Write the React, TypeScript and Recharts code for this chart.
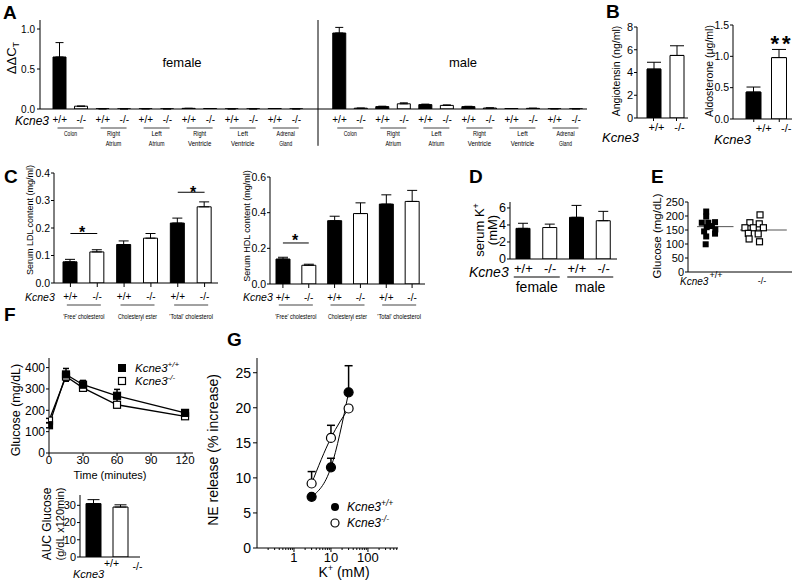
import React from "react";
import {
  BarChart, Bar, Cell, XAxis, YAxis, ErrorBar, ReferenceLine,
  LineChart, Line, ScatterChart, Scatter,
} from "recharts";

const FONT = "'Liberation Sans', Arial, Helvetica, sans-serif";
const BLACK = "#000";

// ---------- data ----------
const genotypes = ["+/+", "-/-"];

// A: ΔΔCT per tissue, +/+ then -/- for each tissue
const tissues = ["Colon", "Right Atrium", "Left Atrium", "Right Ventricle", "Left Ventricle", "Adrenal Gland"];
const femaleDdct = [0.65, 0.035, 0.002, 0.001, 0.002, 0.001, 0.008, 0.006, 0.001, 0.001, 0.006, 0.001];
const femaleSem = [0.18, 0, 0, 0, 0, 0, 0, 0, 0, 0, 0, 0];
const maleDdct = [0.95, 0.01, 0.03, 0.065, 0.055, 0.045, 0.03, 0.012, 0.006, 0.008, 0.002, 0.002];
const maleSem = [0.07, 0, 0.005, 0.012, 0.006, 0.006, 0.004, 0.002, 0, 0.002, 0, 0];

// B
const angiotensin = [4.3, 5.5];
const angiotensinSem = [0.6, 0.85];
const aldosterone = [0.43, 0.98];
const aldosteroneSem = [0.08, 0.13];

// C
const lipidGroups = ["'Free' cholesterol", "Cholesteryl ester", "'Total' cholesterol"];
const ldl = [0.077, 0.113, 0.14, 0.163, 0.218, 0.277];
const ldlSem = [0.009, 0.008, 0.013, 0.017, 0.018, 0.018];
const hdl = [0.14, 0.105, 0.355, 0.395, 0.448, 0.463];
const hdlSem = [0.01, 0.006, 0.025, 0.06, 0.052, 0.062];

// D
const sexes = ["female", "male"];
const serumK = [3.6, 3.7, 4.9, 4.5];
const serumKSem = [0.6, 0.4, 1.4, 1.1];

// E: fasting glucose, individual animals (x = jitter inside the column)
const glucWt = [216, 198, 176, 176, 178, 160, 164, 152, 145, 127, 137, 99];
const glucWtX = [0.7, 0.7, 0.53, 0.78, 1.04, 0.72, 0.92, 1.05, 0.62, 0.7, 1.04, 0.68];
const glucKo = [204, 176, 172, 158, 158, 158, 138, 136, 118, 108];
const glucKoX = [2.77, 2.38, 2.74, 2.19, 2.51, 2.9, 2.32, 2.7, 2.35, 2.75];
const glucMeanWt = 162;
const glucMeanKo = 150;

// F: glucose tolerance
const gttTime = [0, 15, 30, 60, 120];
const gttWt = [130, 368, 320, 268, 188];
const gttWtSem = [12, 28, 20, 30, 14];
const gttKo = [152, 358, 305, 226, 172];
const gttKoSem = [10, 22, 14, 14, 10];
const auc = [31, 29];
const aucSem = [2.3, 1.3];

// G: NE release vs K+
const kConc = [3, 10, 30];
const neWt = [7.3, 11.5, 22.2];
const neWtSem = [0, 1.3, 3.8];
const neKo = [9.2, 15.7, 19.9];
const neKoSem = [1.7, 1.8, 0];
const kTicks = [0.2, 0.3, 0.4, 0.5, 0.6, 0.7, 0.8, 0.9, 1, 2, 3, 4, 5, 6, 7, 8, 9, 10, 20, 30, 40, 50, 60, 70, 80, 90, 100, 200, 300, 400, 500, 600];

// ---------- rows ----------
const rowsA: any[] = [];
[[femaleDdct, femaleSem], [maleDdct, maleSem]].forEach(([vals, sems], s) => {
  if (s === 1) rowsA.push({ key: "gap", val: 0, err: [0, 0] });
  vals.forEach((v, i) => {
    const g = genotypes[i % 2];
    rowsA.push({ key: `${s * 6 + Math.floor(i / 2)}|${g}`, geno: g, val: v, err: [0, sems[i]] });
  });
});
const groupsA = [...tissues, ...tissues];

const barRows = (vals: number[], sems: number[]) =>
  vals.map((v, i) => ({
    key: `${Math.floor(i / 2)}|${genotypes[i % 2]}`,
    geno: genotypes[i % 2],
    val: v,
    err: [0, sems[i]],
  }));

const rowsAng = barRows(angiotensin, angiotensinSem);
const rowsAld = barRows(aldosterone, aldosteroneSem);
const rowsLdl = barRows(ldl, ldlSem);
const rowsHdl = barRows(hdl, hdlSem);
const rowsK = barRows(serumK, serumKSem);
const rowsAuc = barRows(auc, aucSem);

const ptsWt = glucWt.map((y, i) => ({ x: glucWtX[i], y }));
const ptsKo = glucKo.map((y, i) => ({ x: glucKoX[i], y }));

const rowsGtt = gttTime.map((t, i) => ({
  t, wt: gttWt[i], wtErr: gttWtSem[i], ko: gttKo[i], koErr: gttKoSem[i],
}));
const rowsNe = kConc.map((k, i) => ({
  k, wt: neWt[i], wtErr: [0, neWtSem[i]], ko: neKo[i], koErr: [0, neKoSem[i]],
}));

// ---------- helpers ----------
const axisStyle = { stroke: BLACK, strokeWidth: 1 };
const tickText = (fs: number) => ({ fontSize: fs, fill: BLACK, fontFamily: FONT });

// plot rectangle (page coords) -> chart box
function frame(x1: number, y1: number, x2: number, y2: number, left: number, bottom: number, top = 6, right = 6) {
  return {
    style: { position: "absolute" as const, left: x1 - left, top: y1 - top },
    width: x2 - x1 + left + right,
    height: y2 - y1 + top + bottom,
    margin: { top, right, bottom: 0, left: 0 },
    left,
    bottom,
  };
}

function GenoTick(props: any) {
  const {
    x, y, payload, fs = 10, dy = 12, dxP = 0, dxM = 0, dyM = 0, mark = 0, band = 0,
    groups, split = false, ul = 0, uy = 0, gy = 0, gfs = 7, squeeze = 0, lead = 10, ulColor = "#444",
  } = props;
  const parts = String(payload.value).split("|");
  if (parts.length < 2) return null;
  const gi = Number(parts[0]);
  const geno = parts[1];
  const plus = geno === genotypes[0];
  const lines = groups ? (split ? groups[gi].split(" ") : [groups[gi]]) : [];
  const cx = x + band / 2;
  return (
    <g>
      {mark > 0 && <line x1={x} x2={x} y1={y} y2={y + mark} stroke={BLACK} />}
      <text x={x + (plus ? dxP : dxM)} y={y + dy + (plus ? 0 : dyM)} textAnchor="middle" fontSize={fs} fontFamily={FONT} fill={BLACK}>
        {geno}
      </text>
      {plus && groups && (
        <g>
          <line x1={cx - ul} x2={cx + ul} y1={y + uy} y2={y + uy} stroke={ulColor} />
          {lines.map((s: string, i: number) => (
            <text key={i} x={cx} y={y + gy + i * lead} textAnchor="middle" fontSize={gfs} fontFamily={FONT} fill={BLACK}
              {...(squeeze ? { textLength: s.length * squeeze, lengthAdjust: "spacingAndGlyphs" } : {})}>
              {s}
            </text>
          ))}
        </g>
      )}
    </g>
  );
}

function LogTick(props: any) {
  const { x, y, payload } = props;
  const v = payload.value;
  const major = v === 1 || v === 10 || v === 100;
  return (
    <g>
      <line x1={x} x2={x} y1={y} y2={y + (major ? 4 : 2)} stroke={BLACK} />
      {major && (
        <text x={x} y={y + 13.5} textAnchor="middle" fontSize={13} fontFamily={FONT} fill={BLACK}>{v}</text>
      )}
    </g>
  );
}

const barSeries = (rows: any[], cap: number) => (
  <Bar dataKey="val" stroke={BLACK} strokeWidth={1} isAnimationActive={false}>
    {rows.map((r) => <Cell key={r.key} fill={r.geno === "-/-" ? "#fff" : BLACK} />)}
    <ErrorBar dataKey="err" width={cap} stroke={BLACK} strokeWidth={1} direction="y" />
  </Bar>
);

const squareDot = (fill: string, size: number) => (p: any) => (
  <rect key={`${fill}-${p.index}`} x={p.cx - size / 2} y={p.cy - size / 2} width={size} height={size} fill={fill} stroke={BLACK} strokeWidth={1.2} />
);
const circleDot = (fill: string) => (p: any) => (
  <circle key={`${fill}-${p.index}`} cx={p.cx} cy={p.cy} r={4.5} fill={fill} stroke={BLACK} strokeWidth={1.2} />
);

const fmt1 = (v: number) => v.toFixed(1);

// ---------- chart frames ----------
const fA = frame(40, 20, 587, 109, 40, 42, 4, 6);
const BAND_A = (587 - 40 - 9) / 25;
const fAng = frame(637, 27, 688, 118, 24, 16, 6, 4);
const fAld = frame(733, 25, 792, 119, 22, 16, 6, 4);
const fLdl = frame(54, 173, 218, 283, 22, 40, 6, 20);
const fHdl = frame(270, 177, 425, 284, 22, 40, 6, 20);
const fK = frame(510, 202, 617, 259, 14, 38, 6, 4);
const fE = frame(688, 202, 792, 272, 26, 10, 6, 4);
const fF = frame(49, 358, 193, 453, 30, 16, 6, 6);
const fAuc = frame(80, 495, 140, 557, 16, 22, 6, 4);
const fG = frame(257, 358, 398, 548, 30, 22, 6, 4);

function Letter({ c, x, y }: { c: string; x: number; y: number }) {
  return <text x={x} y={y} fontSize={19} fontWeight="bold" fontFamily={FONT}>{c}</text>;
}

function Overlay() {
  return (
    <svg width={800} height={580} style={{ position: "absolute", left: 0, top: 0, pointerEvents: "none" }} fontFamily={FONT} fill={BLACK}>
      <Letter c="A" x={3} y={19} />
      <Letter c="B" x={606} y={18} />
      <Letter c="C" x={4} y={183} />
      <Letter c="D" x={469} y={183} />
      <Letter c="E" x={651} y={183} />
      <Letter c="F" x={4} y={321} />
      <Letter c="G" x={227} y={346} />

      {/* A */}
      <text transform="translate(16,58) rotate(-90)" textAnchor="middle" fontSize={13}>
        ΔΔC<tspan fontSize={9} dy={3}>T</tspan>
      </text>
      <text x={15} y={125} fontSize={12} fontStyle="italic">Kcne3</text>
      <text x={182} y={67} fontSize={13} textAnchor="middle">female</text>
      <text x={463} y={67} fontSize={13} textAnchor="middle">male</text>

      {/* B */}
      <text transform="translate(620,71) rotate(-90)" textAnchor="middle" fontSize={10.5}>Angiotensin (ng/ml)</text>
      <text transform="translate(713,71) rotate(-90)" textAnchor="middle" fontSize={10.5}>Aldosterone (μg/ml)</text>
      <text x={602} y={142} fontSize={13} fontStyle="italic">Kcne3</text>
      <text x={714} y={144} fontSize={13} fontStyle="italic">Kcne3</text>
      <text x={782} y={51} fontSize={22} fontWeight="bold" textAnchor="middle" letterSpacing={3}>**</text>

      {/* C */}
      <text transform="translate(33,220) rotate(-90)" textAnchor="middle" fontSize={9}>Serum LDL content (mg/ml)</text>
      <text transform="translate(250,226) rotate(-90)" textAnchor="middle" fontSize={9}>Serum HDL content (mg/ml)</text>
      <text x={25} y={301} fontSize={10.5} fontStyle="italic">Kcne3</text>
      <text x={243} y={301} fontSize={10.5} fontStyle="italic">Kcne3</text>
      <text x={82} y={238} fontSize={16} fontWeight="bold" textAnchor="middle">*</text>
      <text x={193} y={198} fontSize={16} fontWeight="bold" textAnchor="middle">*</text>
      <text x={295} y={246} fontSize={16} fontWeight="bold" textAnchor="middle">*</text>

      {/* D */}
      <text transform="translate(484,230) rotate(-90)" textAnchor="middle" fontSize={13}>
        serum K<tspan fontSize={9} dy={-5}>+</tspan>
      </text>
      <text transform="translate(497,230) rotate(-90)" textAnchor="middle" fontSize={13}>(mM)</text>
      <text x={469} y={277} fontSize={14} fontStyle="italic">Kcne3</text>

      {/* E */}
      <text transform="translate(661,236) rotate(-90)" textAnchor="middle" fontSize={11.5}>Glucose (mg/dL)</text>
      <text x={680} y={285} fontSize={10} fontStyle="italic">Kcne3</text>
      <text x={716} y={278} fontSize={9} textAnchor="middle">+/+</text>
      <text x={762} y={284} fontSize={9} textAnchor="middle">-/-</text>

      {/* F */}
      <text transform="translate(20,410) rotate(-90)" textAnchor="middle" fontSize={12.5}>Glucose (mg/dL)</text>
      <text x={110} y={479} fontSize={11} textAnchor="middle">Time (minutes)</text>
      <rect x={118.5} y={364.5} width={7} height={7} fill={BLACK} stroke={BLACK} />
      <text x={135} y={372} fontSize={11.5} fontStyle="italic">Kcne3<tspan fontSize={8} dy={-5}>+/+</tspan></text>
      <rect x={118.5} y={377.5} width={7} height={7} fill="#fff" stroke={BLACK} strokeWidth={1.2} />
      <text x={135} y={385} fontSize={11.5} fontStyle="italic">Kcne3<tspan fontSize={8} dy={-5}>-/-</tspan></text>
      <text transform="translate(51,524) rotate(-90)" textAnchor="middle" fontSize={12}>AUC Glucose</text>
      <text transform="translate(64,524) rotate(-90)" textAnchor="middle" fontSize={11}>(g/dL x120min)</text>
      <text x={73} y={578} fontSize={11} fontStyle="italic">Kcne3</text>

      {/* G */}
      <text transform="translate(218,450) rotate(-90)" textAnchor="middle" fontSize={14}>NE release (% increase)</text>
      <text x={344} y={577} fontSize={14} textAnchor="middle">
        K<tspan fontSize={9} dy={-6}>+</tspan><tspan dy={6}> (mM)</tspan>
      </text>
      <circle cx={335} cy={507} r={4} fill={BLACK} />
      <text x={347} y={511} fontSize={12} fontStyle="italic">Kcne3<tspan fontSize={8.5} dy={-5}>+/+</tspan></text>
      <circle cx={335} cy={523} r={4} fill="#fff" stroke={BLACK} strokeWidth={1.2} />
      <text x={347} y={527} fontSize={12} fontStyle="italic">Kcne3<tspan fontSize={8.5} dy={-5}>-/-</tspan></text>
    </svg>
  );
}

export default function App() {
  return (
    <div style={{ position: "absolute", left: 0, top: 0, width: 800, height: 580, background: "#fff", overflow: "hidden", fontFamily: FONT }}>
      {/* A */}
      <div style={fA.style}>
        <BarChart width={fA.width} height={fA.height} data={rowsA} margin={fA.margin} barSize={13}>
          <XAxis dataKey="key" height={fA.bottom} interval={0} padding={{ left: 9, right: 0 }} axisLine={axisStyle}
            tickLine={false} tickSize={0} tickMargin={0}
            tick={<GenoTick fs={10} dy={14} band={BAND_A} groups={groupsA} split ul={13} uy={19} gy={27} gfs={8} squeeze={2.6} lead={10} />} />
          <YAxis width={fA.left} domain={[0, 1.1125]} ticks={[0, 0.5, 1]} interval={0} allowDataOverflow tickFormatter={fmt1}
            tick={tickText(10)} tickSize={3} tickMargin={2} axisLine={axisStyle} tickLine={axisStyle} />
          {barSeries(rowsA, 4)}
          <ReferenceLine segment={[{ x: "gap", y: 1.1125 }, { x: "gap", y: -0.46 }]} stroke={BLACK} ifOverflow="visible" />
        </BarChart>
      </div>

      {/* B */}
      <div style={fAng.style}>
        <BarChart width={fAng.width} height={fAng.height} data={rowsAng} margin={fAng.margin} barSize={14}>
          <XAxis dataKey="key" height={fAng.bottom} interval={0} padding={{ left: 5, right: 0 }} axisLine={axisStyle}
            tickLine={false} tickSize={0} tickMargin={0} tick={<GenoTick fs={11} dy={12.5} dxP={3} dxM={3} mark={3} />} />
          <YAxis width={fAng.left} domain={[0, 8]} ticks={[0, 2, 4, 6, 8]} interval={0} allowDataOverflow
            tick={tickText(11)} tickSize={3} tickMargin={1} axisLine={axisStyle} tickLine={axisStyle} />
          {barSeries(rowsAng, 7)}
        </BarChart>
      </div>
      <div style={fAld.style}>
        <BarChart width={fAld.width} height={fAld.height} data={rowsAld} margin={fAld.margin} barSize={15}>
          <XAxis dataKey="key" height={fAld.bottom} interval={0} padding={{ left: 8, right: 0 }} axisLine={axisStyle}
            tickLine={false} tickSize={0} tickMargin={0} tick={<GenoTick fs={11} dy={12.5} dxP={10} dxM={7} mark={3} />} />
          <YAxis width={fAld.left} domain={[0, 1.5]} ticks={[0, 0.5, 1, 1.5]} interval={0} allowDataOverflow tickFormatter={fmt1}
            tick={tickText(10.5)} tickSize={3} tickMargin={1} axisLine={axisStyle} tickLine={axisStyle} />
          {barSeries(rowsAld, 7)}
        </BarChart>
      </div>

      {/* C */}
      <div style={fLdl.style}>
        <BarChart width={fLdl.width} height={fLdl.height} data={rowsLdl} margin={fLdl.margin} barSize={14}>
          <XAxis dataKey="key" height={fLdl.bottom} interval={0} padding={{ left: 3, right: 0 }} axisLine={axisStyle}
            tickLine={false} tickSize={0} tickMargin={0}
            tick={<GenoTick fs={10} dy={16.5} mark={4} band={(218 - 57) / 6} groups={lipidGroups} ul={17} uy={22} gy={35.5} gfs={7.5} squeeze={2.3} />} />
          <YAxis width={fLdl.left} domain={[0, 0.4]} ticks={[0, 0.1, 0.2, 0.3, 0.4]} interval={0} allowDataOverflow tickFormatter={fmt1}
            tick={tickText(10.5)} tickSize={3} tickMargin={1} axisLine={axisStyle} tickLine={axisStyle} />
          {barSeries(rowsLdl, 5)}
          <ReferenceLine segment={[{ x: "0|+/+", y: 0.18 }, { x: "0|-/-", y: 0.18 }]} stroke={BLACK} ifOverflow="visible" />
          <ReferenceLine segment={[{ x: "2|+/+", y: 0.33 }, { x: "2|-/-", y: 0.33 }]} stroke={BLACK} ifOverflow="visible" />
        </BarChart>
      </div>
      <div style={fHdl.style}>
        <BarChart width={fHdl.width} height={fHdl.height} data={rowsHdl} margin={fHdl.margin} barSize={14}>
          <XAxis dataKey="key" height={fHdl.bottom} interval={0} padding={{ left: 0, right: 0 }} axisLine={axisStyle}
            tickLine={false} tickSize={0} tickMargin={0}
            tick={<GenoTick fs={10} dy={16.5} mark={4} band={155 / 6} groups={lipidGroups} ul={17} uy={21} gy={34.5} gfs={7.5} squeeze={2.3} />} />
          <YAxis width={fHdl.left} domain={[0, 0.6]} ticks={[0, 0.2, 0.4, 0.6]} interval={0} allowDataOverflow tickFormatter={fmt1}
            tick={tickText(10.5)} tickSize={3} tickMargin={1} axisLine={axisStyle} tickLine={axisStyle} />
          {barSeries(rowsHdl, 5)}
          <ReferenceLine segment={[{ x: "0|+/+", y: 0.23 }, { x: "0|-/-", y: 0.23 }]} stroke={BLACK} ifOverflow="visible" />
        </BarChart>
      </div>

      {/* D */}
      <div style={fK.style}>
        <BarChart width={fK.width} height={fK.height} data={rowsK} margin={fK.margin} barSize={14}>
          <XAxis dataKey="key" height={fK.bottom} interval={0} padding={{ left: 0, right: 0 }} axisLine={axisStyle}
            tickLine={false} tickSize={0} tickMargin={0}
            tick={<GenoTick fs={13} dy={13.5} band={107 / 4} groups={sexes} ul={23} uy={18} gy={33} gfs={14} lead={0} ulColor={BLACK} />} />
          <YAxis width={fK.left} domain={[0, 6.7]} ticks={[0, 2, 4, 6]} interval={0} allowDataOverflow
            tick={tickText(12.5)} tickSize={3} tickMargin={1} axisLine={axisStyle} tickLine={axisStyle} />
          {barSeries(rowsK, 5)}
        </BarChart>
      </div>

      {/* E */}
      <div style={fE.style}>
        <ScatterChart width={fE.width} height={fE.height} margin={fE.margin}>
          <XAxis type="number" dataKey="x" domain={[0, 4]} allowDataOverflow height={fE.bottom} tick={false} tickLine={false} axisLine={axisStyle} />
          <YAxis type="number" dataKey="y" width={fE.left} domain={[0, 250]} ticks={[0, 50, 100, 150, 200, 250]} interval={0} allowDataOverflow
            tick={tickText(11)} tickSize={3} tickMargin={1} axisLine={axisStyle} tickLine={axisStyle} />
          <ReferenceLine segment={[{ x: 0.35, y: glucMeanWt }, { x: 1.75, y: glucMeanWt }]} stroke="#555" />
          <ReferenceLine segment={[{ x: 2.0, y: glucMeanKo }, { x: 3.8, y: glucMeanKo }]} stroke="#555" />
          <Scatter data={ptsWt} isAnimationActive={false}
            shape={(p: any) => <rect x={p.cx - 3} y={p.cy - 3} width={6} height={6} fill={BLACK} />} />
          <Scatter data={ptsKo} isAnimationActive={false}
            shape={(p: any) => <rect x={p.cx - 3} y={p.cy - 3} width={6} height={6} fill="#fff" stroke={BLACK} strokeWidth={1.2} />} />
        </ScatterChart>
      </div>

      {/* F */}
      <div style={fF.style}>
        <LineChart width={fF.width} height={fF.height} data={rowsGtt} margin={fF.margin}>
          <XAxis type="number" dataKey="t" domain={[0, 127]} ticks={[0, 30, 60, 90, 120]} allowDataOverflow interval={0}
            height={fF.bottom} tick={tickText(11.5)} tickSize={3} tickMargin={0} axisLine={axisStyle} tickLine={axisStyle} />
          <YAxis width={fF.left} domain={[0, 445]} ticks={[0, 100, 200, 300, 400]} interval={0} allowDataOverflow
            tick={tickText(12)} tickSize={3} tickMargin={1} axisLine={axisStyle} tickLine={axisStyle} />
          <Line dataKey="ko" stroke={BLACK} strokeWidth={1.3} isAnimationActive={false} dot={squareDot("#fff", 7)}>
            <ErrorBar dataKey="koErr" width={3} stroke={BLACK} direction="y" />
          </Line>
          <Line dataKey="wt" stroke={BLACK} strokeWidth={1.3} isAnimationActive={false} dot={squareDot(BLACK, 7)}>
            <ErrorBar dataKey="wtErr" width={3} stroke={BLACK} direction="y" />
          </Line>
        </LineChart>
      </div>
      <div style={fAuc.style}>
        <BarChart width={fAuc.width} height={fAuc.height} data={rowsAuc} margin={fAuc.margin} barSize={15}>
          <XAxis dataKey="key" height={fAuc.bottom} interval={0} padding={{ left: 0, right: 6 }} axisLine={axisStyle}
            tickLine={false} tickSize={0} tickMargin={0} tick={<GenoTick fs={10.5} dy={9.5} dxP={18} dxM={17} dyM={3.5} />} />
          <YAxis width={fAuc.left} domain={[0, 36]} ticks={[0, 10, 20, 30]} interval={0} allowDataOverflow
            tick={tickText(11)} tickSize={3} tickMargin={1} axisLine={axisStyle} tickLine={axisStyle} />
          {barSeries(rowsAuc, 6)}
        </BarChart>
      </div>

      {/* G */}
      <div style={fG.style}>
        <LineChart width={fG.width} height={fG.height} data={rowsNe} margin={fG.margin}>
          <XAxis type="number" dataKey="k" scale="log" domain={[0.1, 650]} allowDataOverflow ticks={kTicks} interval={0}
            height={fG.bottom} tick={<LogTick />} tickSize={0} tickMargin={0} tickLine={false} axisLine={axisStyle} />
          <YAxis width={fG.left} domain={[0, 27.1]} ticks={[0, 5, 10, 15, 20, 25]} interval={0} allowDataOverflow
            tick={tickText(14)} tickSize={4} tickMargin={2} axisLine={axisStyle} tickLine={axisStyle} />
          <Line type="monotone" dataKey="wt" stroke={BLACK} strokeWidth={1} isAnimationActive={false} dot={circleDot(BLACK)}>
            <ErrorBar dataKey="wtErr" width={4} stroke={BLACK} direction="y" />
          </Line>
          <Line type="monotone" dataKey="ko" stroke={BLACK} strokeWidth={1} isAnimationActive={false} dot={circleDot("#fff")}>
            <ErrorBar dataKey="koErr" width={4} stroke={BLACK} direction="y" />
          </Line>
        </LineChart>
      </div>

      <Overlay />
    </div>
  );
}
